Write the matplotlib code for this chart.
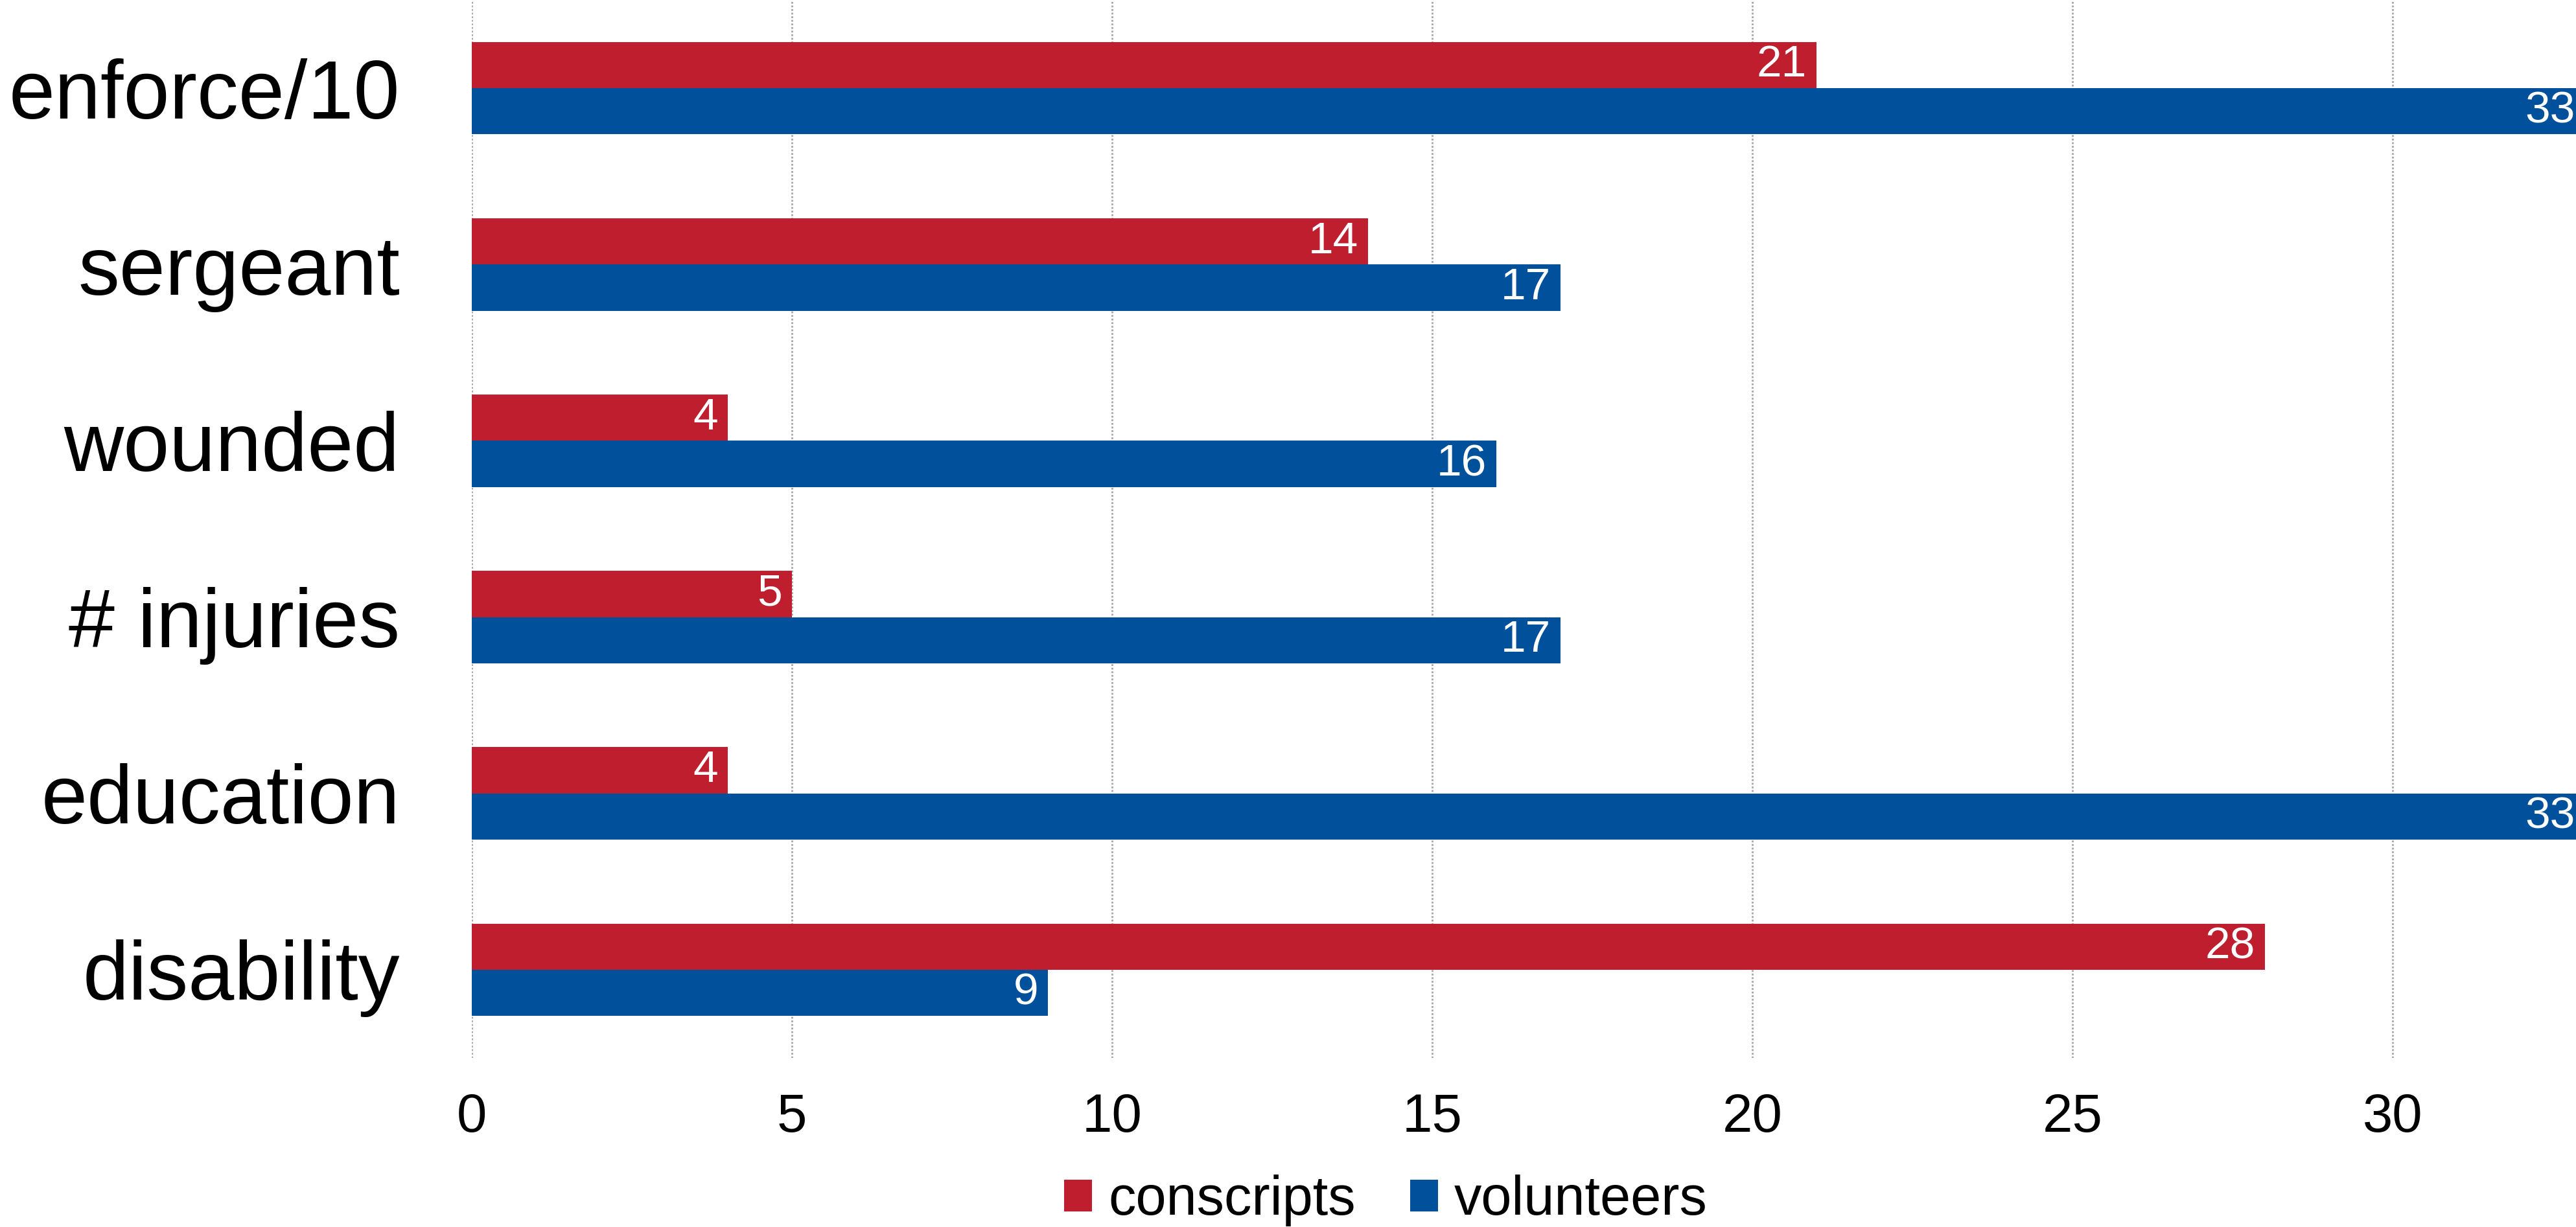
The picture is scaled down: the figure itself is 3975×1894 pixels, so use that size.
import matplotlib
matplotlib.use("Agg")
import matplotlib.pyplot as plt
import numpy as np

categories = ["enforce/10", "sergeant", "wounded", "# injuries", "education", "disability"]
conscripts = [21, 14, 4, 5, 4, 28]
volunteers = [33, 17, 16, 17, 33, 9]
x_ticks = [0, 5, 10, 15, 20, 25, 30]

RED = "#BE1E2D"
BLUE = "#00509B"

plt.rcParams["font.family"] = ["Liberation Sans", "DejaVu Sans"]

W, H = 3975, 1894
fig = plt.figure(figsize=(W / 100, H / 100), dpi=100)
left = 728 / W
bottom = 1 - 1633 / H
ax = fig.add_axes([left, bottom, 1 - left, 1633 / H])

y = np.arange(len(categories))
h = 0.262
bars_c = ax.barh(y - h / 2, conscripts, height=h, color=RED, label="conscripts")
bars_v = ax.barh(y + h / 2, volunteers, height=h, color=BLUE, label="volunteers")

for bars, vals in ((bars_c, conscripts), (bars_v, volunteers)):
    for bar, v in zip(bars, vals):
        ax.annotate(str(v), (v, bar.get_y() + bar.get_height() / 2),
                    xytext=(-11, 0), textcoords="offset points",
                    ha="right", va="center", color="white", fontsize=50,
                    annotation_clip=False)

ax.set_xlim(0, 32.86)
ax.set_ylim(5.5, -0.5)
ax.set_xticks(x_ticks)
ax.set_yticks(y)
ax.set_yticklabels(categories)
ax.tick_params(axis="x", length=0, pad=38, labelsize=60)
ax.tick_params(axis="y", length=0, pad=80, labelsize=92)
for s in ax.spines.values():
    s.set_visible(False)
ax.set_axisbelow(True)
ax.xaxis.grid(True, color="#a6a6a6", linestyle=(0, (1, 1)), linewidth=2)
ax.yaxis.grid(False)

fig.legend(handles=[bars_c, bars_v], loc="center", bbox_to_anchor=(0.538, 0.0214),
           ncol=2, frameon=False, fontsize=61, handlelength=0.5, handleheight=0.5,
           handletextpad=0.3, columnspacing=1.0, borderpad=0, borderaxespad=0)

fig.savefig("out.png", dpi=100)
